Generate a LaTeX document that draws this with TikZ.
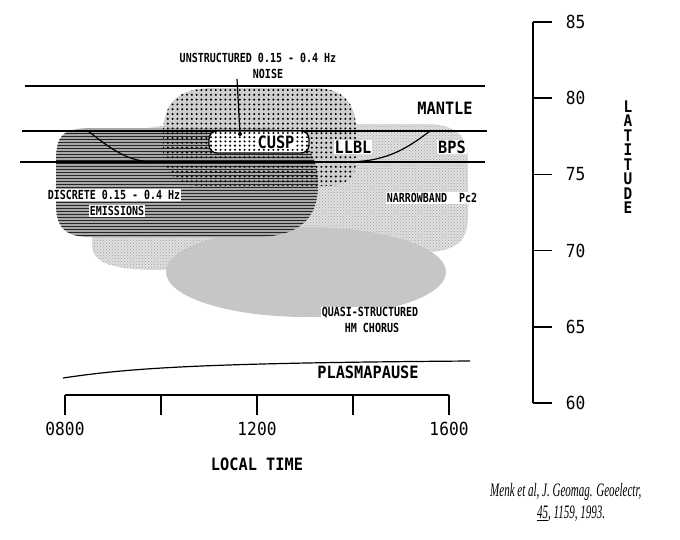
\documentclass[tikz,border=0pt]{standalone}
\usepackage{fontspec}
\newfontfamily\labfont[FakeStretch=0.8]{DejaVu Sans Mono}
\newfontfamily\bigfont[FakeStretch=0.9]{DejaVu Sans Mono}
\newfontfamily\handfont[FakeStretch=0.58]{Liberation Serif}
\usepackage{tikz}
\usetikzlibrary{positioning}
\usetikzlibrary{patterns}

\newcommand{\noiseblob}{(163,135) .. controls (163,100) and (180,88) .. (215,88) -- (315,88) .. controls (345,88) and (356,105) .. (356,130) -- (356,160) .. controls (356,180) and (345,186) .. (325,186) -- (200,186) .. controls (175,186) and (163,170) .. (163,150) -- cycle}

\tikzset{
  lab/.style={font=\labfont\bfseries\fontsize{12.5}{13}\selectfont, inner sep=1pt},
  biglab/.style={font=\bigfont\bfseries\fontsize{17}{18}\selectfont, inner sep=1pt},
  num/.style={font=\bigfont\fontsize{18}{19}\selectfont, inner sep=1pt},
  hand/.style={font=\handfont\itshape\fontsize{19}{20}\selectfont, inner sep=0pt},
  bound/.style={line width=1.2pt},
  axis/.style={line width=1.6pt},
  nbfill/.style={fill=gray!24, postaction={pattern=crosshatch dots, pattern color=gray!75}},
  qsfill/.style={fill=gray!45},
  discfill/.style={fill=gray!68, postaction={pattern=horizontal lines, pattern color=black!85}},
  noisefill/.style={fill=gray!38},
  cuspbox/.style={line width=1.3pt, rounded corners=8pt},
}

\begin{document}
\begin{tikzpicture}[x=1pt,y=-1pt]
\useasboundingbox (0,0) rectangle (680,539);
% regions
\fill[nbfill] (92,180) -- (92,245) .. controls (92,262) and (110,270) .. (160,270) -- (300,262) -- (430,252) .. controls (460,250) and (468,238) .. (468,215) -- (468,160) .. controls (468,135) and (455,124) .. (425,124) -- (200,124) .. controls (130,124) and (92,140) .. (92,180) -- cycle;
\fill[qsfill] (306,272) ellipse [x radius=140, y radius=45];
\fill[noisefill] \noiseblob;
\fill[discfill] (56,160) .. controls (56,132) and (66,128) .. (95,128) -- (260,128) .. controls (300,128) and (318,150) .. (318,185) .. controls (318,222) and (295,237) .. (255,237) -- (90,237) .. controls (66,237) and (56,228) .. (56,205) -- cycle;
\begin{scope}
\clip \noiseblob;
\foreach \i in {0,...,40} {
  \foreach \j in {0,...,20} {
    \fill ({163+4.8*\i},{90+4.8*\j}) circle (1.15);
  }
}
\end{scope}

% boundaries
\draw[bound] (25,86) -- (485,86);
\draw[bound] (22,131) -- (487,131);
\draw[bound] (20,162) -- (485,162);
\draw[bound] (88,131) .. controls (110,148) and (125,160) .. (150,162) -- (345,162) .. controls (385,162) and (405,150) .. (430,131);
\draw[bound] (63,378) .. controls (130,368) and (200,363) .. (470,361);

\fill[white, rounded corners=8pt] (209,131) rectangle (309,153);
\begin{scope}
\clip[rounded corners=8pt] (209,131) rectangle (309,153);
\foreach \i in {0,...,21} {
  \foreach \j in {0,...,5} {
    \fill ({211+4.8*\i},{133+4.2*\j}) circle (1.15);
  }
}
\end{scope}
\draw[cuspbox] (209,131) rectangle (309,153);
\node[biglab, fill=white] (cusp) at (276,142) {CUSP};
\node[biglab, fill=white] (llbl) at (353,147) {LLBL};
\node[biglab, fill=white] (bps) at (452,147) {BPS};
\node[biglab] (mantle) at (445,108) {MANTLE};
\node[biglab] (plasma) at (368,372) {PLASMAPAUSE};

\node[lab] (unstr) at (258,58) {UNSTRUCTURED 0.15 - 0.4 Hz};
\node[lab] (noise) at (268,74) {NOISE};
\coordinate (noisetop) at (237,79);
\coordinate (cuspdot) at (240,134);
\draw[bound] (noisetop) -- (cuspdot);
\fill (cuspdot) circle (2);

\node[lab, fill=white] (disc) at (114,195) {DISCRETE 0.15 - 0.4 Hz};
\node[lab, fill=white] (emis) at (117,211) {EMISSIONS};
\node[lab, fill=white] (narrow) at (432,198) {NARROWBAND\ \ Pc2};
\node[lab, fill=white] (quasi) at (370,313) {QUASI-STRUCTURED};
\node[lab, fill=white] (chorus) at (372,328) {HM CHORUS};

% latitude axis
\draw[axis] (533,22) -- (533,403);
\foreach \lat in {60,65,...,85} {
\draw[axis] (533,{22+(85-\lat)*15.24}) -- (552,{22+(85-\lat)*15.24}) node[num, right=12pt] (lat\lat) {\lat};
}
\node[biglab, font=\bigfont\bfseries\fontsize{16}{14.5}\selectfont, align=center] (latlab) at (628,157) {L\\A\\T\\I\\T\\U\\D\\E};

% local time axis
\draw[axis] (65,395) -- (449,395);
\foreach \t in {0,...,4} {
\draw[axis] ({65+96*\t},395) -- ({65+96*\t},415);
}
\foreach \t/\hr in {0/0800,2/1200,4/1600} {
\node[num, below=6pt] (hr\hr) at ({65+96*\t},415) {\hr};
}
\node[biglab] (ltime) at (257,464) {LOCAL TIME};

\node[hand, anchor=west] (ref1) at (490,492) {Menk et al, J. Geomag. Geoelectr,};
\node[hand, anchor=west] (ref2) at (537,514) {\underline{45}, 1159, 1993.};
\end{tikzpicture}
\end{document}
